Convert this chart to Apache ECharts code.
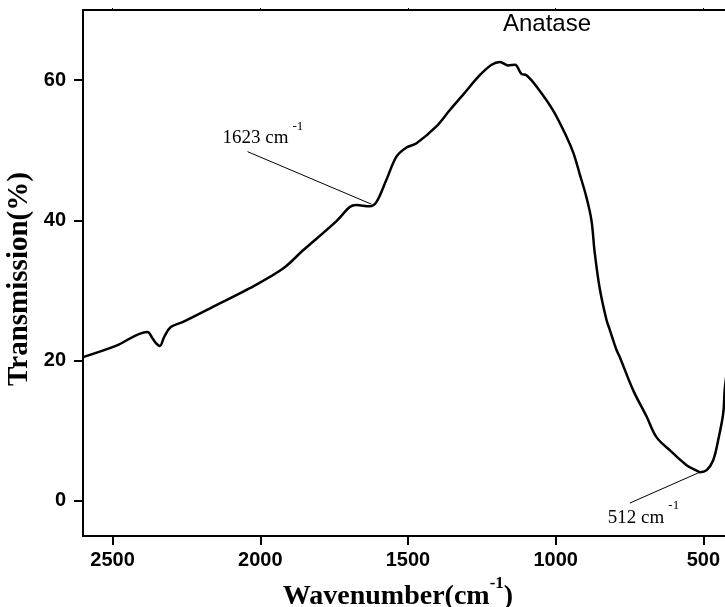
<!DOCTYPE html>
<html>
<head>
<meta charset="utf-8">
<script src="https://cdn.jsdelivr.net/npm/echarts@6/dist/echarts.min.js"></script>
<style>
  html, body { margin: 0; padding: 0; background: #fff; }
  #chart { width: 725px; height: 607px; }
</style>
</head>
<body>
<div id="chart"></div>
<script>
// FTIR transmission spectrum of anatase TiO2
const wavenumber = [2600, 2489, 2382, 2365, 2353, 2340, 2325, 2303, 2263, 2150, 2037, 1924,
  1856, 1742, 1697, 1675, 1630, 1607, 1573, 1539, 1505, 1471, 1404, 1359, 1314, 1257,
  1217, 1189, 1161, 1138, 1116, 1099, 1065, 1009, 963, 940, 918, 896, 879, 868, 851,
  828, 817, 794, 783, 738, 692, 659, 613, 557, 518, 512, 489, 467, 450, 433, 427, 405];
const transmission = [20.5, 22.1, 24.1, 23.2, 22.5, 22.1, 23.4, 24.8, 25.5, 27.9, 30.3, 33.1,
  35.7, 39.9, 41.9, 42.2, 42.0, 42.6, 45.8, 49.1, 50.4, 51.0, 53.4, 55.7, 57.9, 60.7,
  62.2, 62.6, 62.1, 62.2, 60.9, 60.7, 59.1, 55.7, 51.9, 49.6, 46.5, 43.3, 40.0, 35.4, 30.3,
  25.8, 24.4, 21.5, 20.5, 15.8, 12.0, 9.1, 7.2, 5.1, 4.2, 4.1, 4.4, 5.8, 8.7, 12.5, 16.3, 23.0];

// axis range (the plotted window stops at 427 cm-1 on the right) and tick positions
const xMin = 427, xMax = 2600;
const xTicks = [500, 1000, 1500, 2000, 2500];
const yTicks = [0, 20, 40, 60];

// labelled bands: [wavenumber, transmission at the band], and where each leader line ends
const peakLabels = ['1623', '512'];
const peakAt = [[1623, 42.3], [512, 4.1]];
const leaderEnd = [[2043, 49.8], [749, -0.3]];

const chart = echarts.init(document.getElementById('chart'), null, { renderer: 'canvas' });

const sans = 'Liberation Sans, Arial, sans-serif';
const serif = 'Liberation Serif, Times New Roman, serif';

const axisLineStyle = { color: '#000', width: 2 };
const plain = v => String(v);

chart.setOption({
  animation: false,
  backgroundColor: '#fff',
  grid: { left: 83, top: 10, right: 0, bottom: 71, show: false },
  xAxis: [{
    type: 'value', inverse: true, min: xMin, max: xMax, position: 'bottom',
    axisLine: { show: true, onZero: false, lineStyle: axisLineStyle },
    axisTick: { show: true, inside: false, length: 9, lineStyle: { width: 2, color: '#000' }, customValues: xTicks },
    axisLabel: { show: true, margin: 14, color: '#000', fontFamily: sans, fontWeight: 'bold', fontSize: 20, customValues: xTicks, formatter: plain },
    splitLine: { show: false }
  }, {
    type: 'value', inverse: true, min: xMin, max: xMax, position: 'top',
    axisLine: { show: true, onZero: false, lineStyle: axisLineStyle },
    axisTick: { show: true, inside: false, length: 2, lineStyle: { width: 1, color: '#000' }, customValues: xTicks },
    axisLabel: { show: false },
    splitLine: { show: false }
  }],
  yAxis: {
    type: 'value', min: -5, max: 70,
    axisLine: { show: true, onZero: false, lineStyle: axisLineStyle },
    axisTick: { show: true, inside: false, length: 9, lineStyle: { width: 2, color: '#000' }, customValues: yTicks },
    axisLabel: { show: true, margin: 17, color: '#000', fontFamily: sans, fontWeight: 'bold', fontSize: 20, customValues: yTicks, formatter: plain },
    splitLine: { show: false }
  },
  series: [{
    type: 'line',
    data: wavenumber.map((w, i) => [w, transmission[i]]),
    showSymbol: false,
    smooth: 0.35,
    lineStyle: { color: '#000', width: 2.5 },
    markLine: {
      silent: true,
      symbol: ['none', 'none'],
      label: { show: false },
      lineStyle: { color: '#000', width: 1, type: 'solid' },
      data: peakAt.map((p, i) => [{ coord: p }, { coord: leaderEnd[i] }])
    }
  }]
});

// text placed relative to the leader line ends
const e1 = chart.convertToPixel({ gridIndex: 0 }, leaderEnd[0]);
const e2 = chart.convertToPixel({ gridIndex: 0 }, leaderEnd[1]);

function peakText(label, x, y) {
  return {
    type: 'text', x: x, y: y, silent: true,
    style: {
      text: '{n|' + label + ' cm}{s|-1}',
      align: 'left', verticalAlign: 'bottom',
      rich: {
        n: { fontFamily: serif, fontSize: 19, fill: '#000', verticalAlign: 'bottom', lineHeight: 28 },
        s: { fontFamily: serif, fontSize: 13, fill: '#000', verticalAlign: 'top', padding: [0, 0, 0, 4] }
      }
    }
  };
}

chart.setOption({
  graphic: [
    peakText(peakLabels[0], e1[0] - 25, e1[1] - 4),
    peakText(peakLabels[1], e2[0] - 22, e2[1] + 24),
    {
      type: 'text', x: 547, y: 24, silent: true,
      style: { text: 'Anatase', fontFamily: sans, fontSize: 24, fill: '#000', align: 'center', verticalAlign: 'middle' }
    },
    {
      type: 'text', x: 20, y: 279, rotation: Math.PI / 2, silent: true,
      style: { text: 'Transmission(%)', fontFamily: serif, fontWeight: 'bold', fontSize: 29, fill: '#000', align: 'center', verticalAlign: 'middle' }
    },
    {
      type: 'text', x: 398, y: 611, silent: true,
      style: {
        text: '{a|Wavenumber(cm}{s|-1}{a|)}',
        align: 'center', verticalAlign: 'bottom',
        rich: {
          a: { fontFamily: serif, fontWeight: 'bold', fontSize: 28, fill: '#000', verticalAlign: 'bottom', lineHeight: 36 },
          s: { fontFamily: serif, fontWeight: 'bold', fontSize: 17, fill: '#000', verticalAlign: 'top' }
        }
      }
    }
  ]
});
</script>
</body>
</html>
